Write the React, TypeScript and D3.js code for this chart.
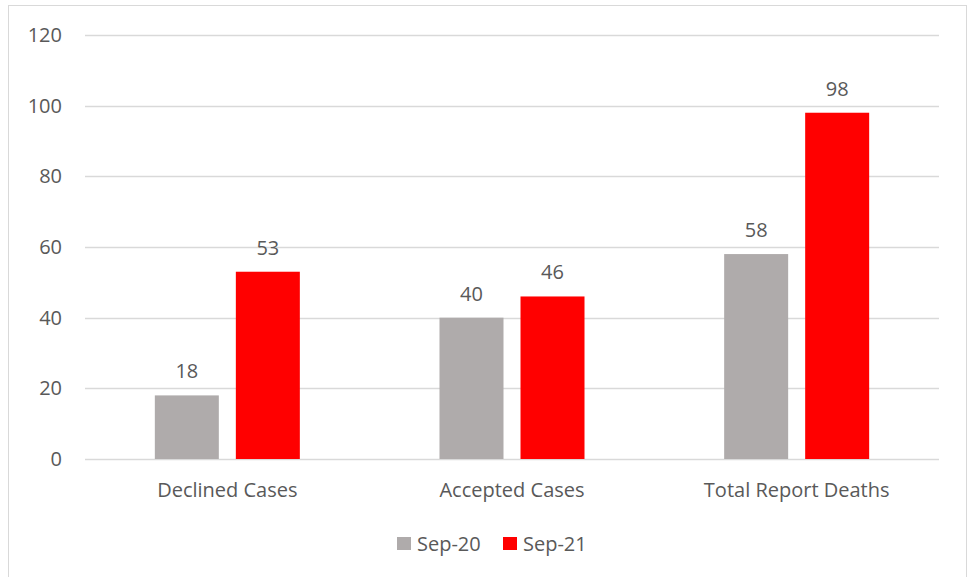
import React from 'react';
import * as d3 from 'd3';

const categories = ['Declined Cases', 'Accepted Cases', 'Total Report Deaths'];
const seriesNames = ['Sep-20', 'Sep-21'];
const sep20 = [18, 40, 58];
const sep21 = [53, 46, 98];
const yTicks = [0, 20, 40, 60, 80, 100, 120];

const colors: Record<string, string> = { 'Sep-20': '#afabab', 'Sep-21': '#ff0000' };
const FONT = '"Open Sans", "Noto Sans", sans-serif';
const TEXT = '#595959';
const FS = 20;

export default function App() {
  const W = 972;
  const H = 577;
  const plot = { left: 85, right: 939, top: 35, bottom: 459 };

  const x0 = d3.scaleBand<string>()
    .domain(categories)
    .range([plot.left, plot.right])
    .paddingInner(0.4906)
    .paddingOuter(0.2453);
  const x1 = d3.scaleBand<string>()
    .domain(seriesNames)
    .range([0, x0.bandwidth()])
    .paddingInner(0.21)
    .paddingOuter(0);
  const y = d3.scaleLinear().domain([0, 120]).range([plot.bottom, plot.top]);

  const values: Record<string, number[]> = { 'Sep-20': sep20, 'Sep-21': sep21 };

  return (
    <svg width={W} height={H} style={{ position: 'absolute', left: 0, top: 0 }} fontFamily={FONT}>
      <rect x={0} y={0} width={W} height={H} fill="#ffffff" />
      <rect x={8.5} y={5.5} width={958} height={580} fill="#ffffff" stroke="#d9d9d9" strokeWidth={1} />

      {yTicks.map(t => (
        <g key={t}>
          <line x1={plot.left} x2={plot.right} y1={Math.round(y(t)) + 0.5} y2={Math.round(y(t)) + 0.5}
            stroke="#d9d9d9" strokeWidth={1.3} />
          <text x={62} y={y(t)} dy="0.35em" textAnchor="end" fontSize={FS} fill={TEXT}>{t}</text>
        </g>
      ))}

      {categories.map((c, i) => (
        <g key={c} transform={`translate(${x0(c)},0)`}>
          {seriesNames.map(s => {
            const v = values[s][i];
            const bx = x1(s)!;
            return (
              <g key={s}>
                <rect x={bx} y={y(v)} width={x1.bandwidth()} height={y(0) - y(v)} fill={colors[s]} />
                <text x={bx + x1.bandwidth() / 2} y={y(v) - 17} textAnchor="middle" fontSize={FS} fill={TEXT}>{v}</text>
              </g>
            );
          })}
          <text x={x0.bandwidth() / 2} y={490} dy="0.35em" textAnchor="middle" fontSize={FS} fill={TEXT}>{c}</text>
        </g>
      ))}

      <g>
        <rect x={397} y={537} width={14} height={13} fill={colors['Sep-20']} />
        <text x={417} y={543.5} dy="0.35em" fontSize={FS} fill={TEXT}>Sep-20</text>
        <rect x={503} y={537} width={14} height={13} fill={colors['Sep-21']} />
        <text x={523} y={543.5} dy="0.35em" fontSize={FS} fill={TEXT}>Sep-21</text>
      </g>
    </svg>
  );
}
